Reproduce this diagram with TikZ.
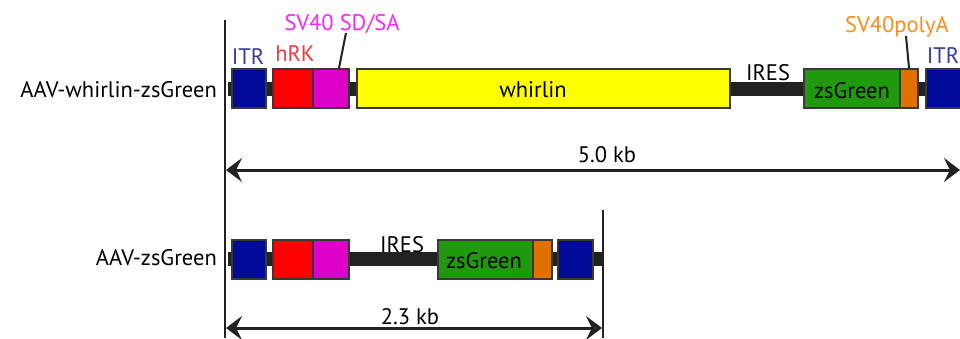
\documentclass[tikz,border=0pt]{standalone}
\usepackage{fontspec}
\setmainfont{PT Sans}
\usetikzlibrary{arrows.meta}
\definecolor{itrblue}{HTML}{000C99}
\definecolor{itrtext}{HTML}{3A3A9A}
\definecolor{rkred}{HTML}{FF0000}
\definecolor{rktext}{HTML}{EE3B3B}
\definecolor{sdsa}{HTML}{DD00C8}
\definecolor{sdsatext}{HTML}{FF22FF}
\definecolor{gene}{HTML}{FFFF00}
\definecolor{zsgreen}{HTML}{1E9A0C}
\definecolor{polya}{HTML}{E07000}
\definecolor{polyatext}{HTML}{FF8C1A}
\definecolor{backbone}{HTML}{222222}
\begin{document}
\begin{tikzpicture}[x=1pt,y=-1pt,
  every node/.style={font=\fontsize{22.5}{26}\selectfont},
  box/.style={draw=backbone!90, line width=2pt, inner sep=0pt, minimum height=39pt},
  spine/.style={draw=backbone, line width=14pt},
  lbl/.style={anchor=base, inner sep=0pt},
  rowname/.style={anchor=base east, inner sep=0pt},
  leader/.style={draw=backbone, line width=2pt},
  dim/.style={draw=backbone, line width=3pt, {Stealth[length=16pt,width=24pt,inset=6pt]}-{Stealth[length=16pt,width=24pt,inset=6pt]}},
  edge/.style={draw=backbone, line width=1.8pt}]
\useasboundingbox (0,0) rectangle (960,338);

% ---------- AAV-whirlin-zsGreen ----------
\coordinate (s1a) at (228,89);
\coordinate (s1b) at (962,89);
\draw[spine] (s1a) -- (s1b);
\node[box, fill=itrblue, minimum width=34pt] (itr1) at (249,88.5) {};
\node[box, fill=rkred, minimum width=40pt] (rk1) at (293,88.5) {};
\node[box, fill=sdsa, minimum width=36pt] (sd1) at (331,88.5) {};
\node[box, fill=gene, minimum width=373pt] (wh) at (543.5,88.5) {};
\node[box, fill=zsgreen, minimum width=96pt] (zs1) at (852,88.5) {};
\node[box, fill=polya, minimum width=18pt] (pa1) at (909,88.5) {};
\node[box, fill=itrblue, minimum width=40pt] (itr1r) at (946,88.5) {};

\node[lbl] at (533,97) {whirlin};
\node[lbl] at (852,98) {zsGreen};
\node[lbl] at (768,80) {IRES};
\node[lbl, text=itrtext] (titr1) at (248,64) {ITR};
\node[lbl, text=itrtext] (titr1r) at (943,63) {ITR};
\node[lbl, text=rktext] (trk1) at (295,61) {hRK};
\node[lbl, text=sdsatext] (tsd1) at (342,30) {SV40 SD/SA};
\node[lbl, text=polyatext] (tpa1) at (897,32) {SV40polyA};
\coordinate (sdtop) at (346,33);
\coordinate (pdtop) at (906,36);
\draw[leader] (sdtop) -- (sd1.north -| 339,0);
\draw[leader] (pdtop) -- (pa1.north);
\node[rowname] (row1) at (217,97) {AAV-whirlin-zsGreen};

% 5.0 kb dimension
\coordinate (v1top) at (225,20);
\coordinate (v1bot) at (225,338);
\draw[edge] (v1top) -- (v1bot);
\coordinate (d1a) at (226,170);
\coordinate (d1b) at (960,170);
\draw[dim] (d1a) -- (d1b);
\node[lbl] at (607,162) {5.0 kb};

% ---------- AAV-zsGreen ----------
\coordinate (s2a) at (228,259);
\coordinate (s2b) at (602,259);
\draw[spine] (s2a) -- (s2b);
\node[box, fill=itrblue, minimum width=34pt] (itr2) at (249,259) {};
\node[box, fill=rkred, minimum width=40pt] (rk2) at (293,259) {};
\node[box, fill=sdsa, minimum width=36pt] (sd2) at (331,259) {};
\node[box, fill=zsgreen, minimum width=95pt] (zs2) at (485.5,259) {};
\node[box, fill=polya, minimum width=19pt] (pa2) at (542.5,259) {};
\node[box, fill=itrblue, minimum width=35pt] (itr2r) at (575.5,259) {};
\node[lbl] at (402,252) {IRES};
\node[lbl] at (484,268) {zsGreen};
\node[rowname] (row2) at (217,265) {AAV-zsGreen};

% 2.3 kb dimension
\coordinate (v2top) at (603,210);
\coordinate (v2bot) at (603,338);
\draw[edge] (v2top) -- (v2bot);
\coordinate (d2a) at (226,328);
\coordinate (d2b) at (602,328);
\draw[dim] (d2a) -- (d2b);
\node[lbl] at (410,324) {2.3 kb};
\end{tikzpicture}
\end{document}
